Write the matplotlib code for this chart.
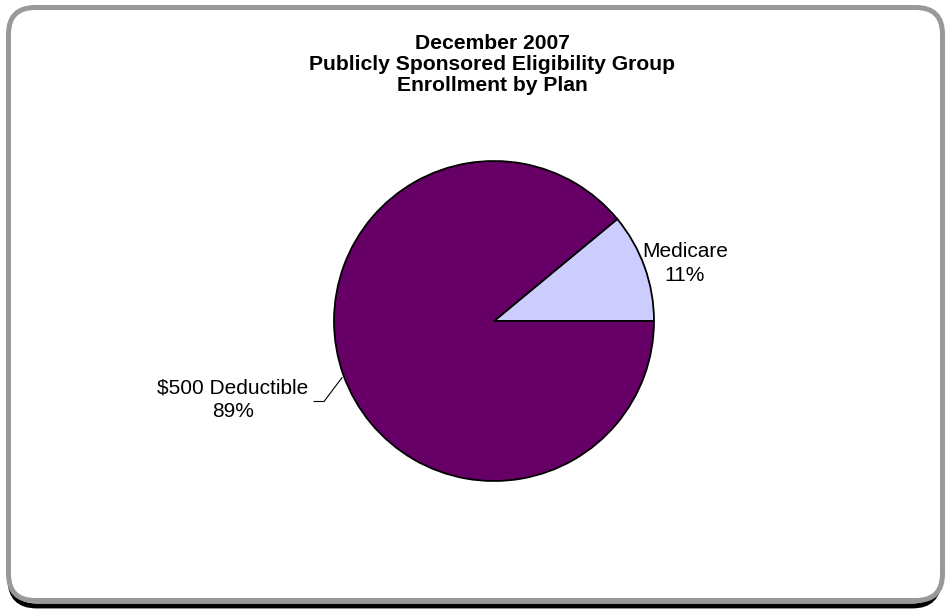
import matplotlib
matplotlib.use("Agg")
import matplotlib.pyplot as plt
from matplotlib.patches import FancyBboxPatch

categories = ["Medicare", "$500 Deductible"]
shares = [11, 89]
colors = ["#CCCCFF", "#660066"]
title = "December 2007\nPublicly Sponsored Eligibility Group\nEnrollment by Plan"

W, H = 953, 610
fig = plt.figure(figsize=(W / 100, H / 100), dpi=100)
fig.patch.set_facecolor("white")

shadow = FancyBboxPatch((10 / W, 1 - 606 / H), (939 - 10) / W, (606 - 10) / H,
                        boxstyle="round,pad=0,rounding_size=0.028",
                        transform=fig.transFigure, facecolor="none",
                        edgecolor="black", linewidth=3.5, mutation_aspect=W / H,
                        zorder=-2)
fig.patches.append(shadow)
frame = FancyBboxPatch((8.5 / W, 1 - 600.5 / H), (942.5 - 8.5) / W, (600.5 - 7.5) / H,
                       boxstyle="round,pad=0,rounding_size=0.028",
                       transform=fig.transFigure, facecolor="white",
                       edgecolor="#999999", linewidth=3.6, mutation_aspect=W / H,
                       zorder=-1)
fig.patches.append(frame)

fig.text(492 / W, 1 - 34 / H, title, ha="center", va="top",
         fontsize=15.2, fontweight="bold", family="Liberation Sans",
         linespacing=1.12)

cx, cy, r = 494, 321, 161
half = 200
ax = fig.add_axes([(cx - half) / W, 1 - (cy + half) / H, 2 * half / W, 2 * half / H])
lim = half / r
ax.set_xlim(-lim, lim)
ax.set_ylim(-lim, lim)
ax.set_aspect("equal")
ax.axis("off")

wedges, _ = ax.pie(shares, colors=colors, startangle=0, counterclock=True,
                   radius=1, wedgeprops=dict(edgecolor="black", linewidth=1.3))

def to_data(x, y):
    return (x - cx) / r, (cy - y) / r

lx, ly = to_data(686, 263)
ax.text(lx, ly, f"{categories[0]}\n{shares[0]}%", ha="center", va="center",
        fontsize=15, family="Liberation Sans", linespacing=1.3, clip_on=False)
lx, ly = to_data(231, 400)
ax.text(lx, ly, f"{categories[1]}\n{shares[1]}%", ha="center", va="center",
        fontsize=15, family="Liberation Sans", linespacing=1.3, clip_on=False)

p1 = to_data(313, 402)
p2 = to_data(323, 402)
p3 = to_data(341, 378)
ax.plot([p1[0], p2[0], p3[0]], [p1[1], p2[1], p3[1]], color="black", lw=0.8,
        clip_on=False)

fig.savefig("out.png", dpi=100, facecolor="white")
